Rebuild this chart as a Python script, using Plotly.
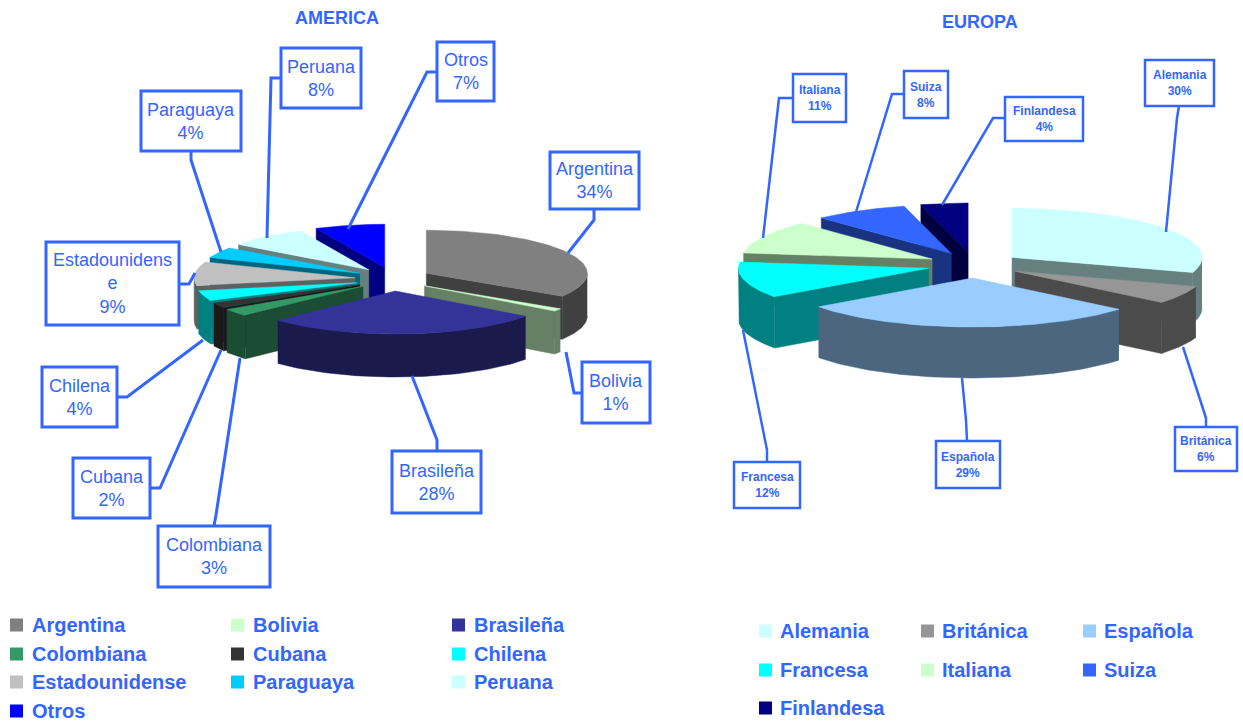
import numpy as np
import plotly.graph_objects as go

america_names = ["Argentina", "Bolivia", "Brasileña", "Colombiana", "Cubana", "Chilena",
                 "Estadounidense", "Paraguaya", "Peruana", "Otros"]
america_values = [34, 1, 28, 3, 2, 4, 9, 4, 8, 7]
america_top = ["#808080", "#CCFFCC", "#333399", "#339966", "#333333", "#00FFFF",
               "#C0C0C0", "#00CCFF", "#CCFFFF", "#0000FF"]
america_side = ["#404040", "#668066", "#1A1A4D", "#1A4D33", "#1A1A1A", "#008080",
                "#606060", "#006680", "#668080", "#000080"]

europa_names = ["Alemania", "Británica", "Española", "Francesa", "Italiana", "Suiza", "Finlandesa"]
europa_values = [30, 6, 29, 12, 11, 8, 4]
europa_top = ["#CCFFFF", "#969696", "#99CCFF", "#00FFFF", "#CCFFCC", "#3366FF", "#000080"]
europa_side = ["#668080", "#4B4B4B", "#4D6680", "#008080", "#668066", "#1A3380", "#000040"]

BLUE = "#3366FF"
FONT = "Liberation Sans, Arial, sans-serif"

# Callouts: box (x0, y0, x1, y1) and leader polyline, in page pixels
america_boxes = [(550, 152, 639, 209), (582, 362, 650, 423), (392, 451, 481, 513),
                 (158, 526, 270, 587), (73, 458, 150, 518), (42, 367, 117, 427),
                 (46, 242, 179, 325), (141, 91, 241, 151), (281, 48, 361, 108),
                 (437, 42, 494, 101)]
america_leaders = [[(594, 209), (594, 220), (568, 253)], [(582, 393), (574, 393), (566, 352)],
                   [(437, 451), (437, 440), (412, 376)], [(214, 526), (216, 515), (240, 358)],
                   [(150, 488), (160, 488), (221, 350)], [(117, 397), (127, 397), (203, 340)],
                   [(179, 284), (189, 284), (195, 273)], [(191, 151), (191, 160), (221, 252)],
                   [(281, 78), (271, 78), (267, 238)], [(437, 72), (427, 72), (348, 229)]]
europa_boxes = [(1145, 60, 1214, 106), (1175, 427, 1237, 471), (936, 441, 1000, 488),
                (734, 462, 800, 508), (793, 74, 846, 122), (904, 71, 948, 118),
                (1005, 97, 1083, 141)]
europa_leaders = [[(1179, 106), (1177, 118), (1166, 232)], [(1206, 427), (1206, 418), (1183, 347)],
                  [(967, 441), (966, 420), (962, 378)], [(767, 462), (767, 450), (743, 330)],
                  [(793, 98), (779, 98), (763, 238)], [(904, 94), (892, 94), (856, 212)],
                  [(1005, 118), (993, 118), (942, 205)]]

fig = go.Figure()


def poly(xs, ys, color, name):
    fig.add_trace(go.Scatter(x=xs, y=ys, mode="lines", fill="toself", fillcolor=color,
                             line=dict(color=color, width=0.5), name=name,
                             hoverinfo="name", showlegend=False))


def pie3d(values, names, top, side, cx, cy, rx, ry, h, ex, ey):
    total = sum(values)
    edges = np.cumsum([0] + list(values)) / total * 2 * np.pi
    order = sorted(range(len(values)),
                   key=lambda i: -np.cos((edges[i] + edges[i + 1]) / 2))
    for i in order:
        a, b = edges[i], edges[i + 1]
        m = (a + b) / 2
        ax, ay = cx + ex * np.sin(m), cy - ey * np.cos(m)
        px = lambda t: ax + rx * np.sin(t)
        py = lambda t: ay - ry * np.cos(t)
        # cut faces that turn towards the viewer
        if np.sin(a) < -1e-6:
            poly([ax, px(a), px(a), ax, ax], [ay, py(a), py(a) + h, ay + h, ay], side[i], names[i])
        if np.sin(b) > 1e-6:
            poly([ax, px(b), px(b), ax, ax], [ay, py(b), py(b) + h, ay + h, ay], side[i], names[i])
        # outer rim, front half only
        lo, hi = max(a, np.pi / 2), min(b, 3 * np.pi / 2)
        if hi > lo:
            t = np.linspace(lo, hi, 60)
            poly(np.r_[px(t), px(t)[::-1]], np.r_[py(t), py(t)[::-1] + h], side[i], names[i])
        # top surface
        t = np.linspace(a, b, 90)
        poly(np.r_[ax, px(t), ax], np.r_[ay, py(t), ay], top[i], names[i])


pie3d(america_values, america_names, america_top, america_side, 393, 279, 161, 43, 43, 38, 12)
pie3d(europa_values, europa_names, europa_top, europa_side, 974, 265, 190, 49, 51, 47, 13)

shapes, annots = [], []


def callouts(names, values, boxes, leaders, size, bold, lw):
    for n, v, bx, ld in zip(names, values, boxes, leaders):
        path = "M" + " L".join(f"{x},{y}" for x, y in ld)
        shapes.append(dict(type="path", path=path, xref="x", yref="y",
                           line=dict(color=BLUE, width=lw)))
        shapes.append(dict(type="rect", xref="x", yref="y", x0=bx[0], y0=bx[1], x1=bx[2], y1=bx[3],
                           line=dict(color=BLUE, width=lw), fillcolor="white"))
        label = "Estadounidens<br>e" if n == "Estadounidense" else n
        txt = f"{label}<br>{v}%"
        if bold:
            txt = "<b>" + txt.replace("<br>", "</b><br><b>") + "</b>"
        annots.append(dict(x=(bx[0] + bx[2]) / 2, y=(bx[1] + bx[3]) / 2, xref="x", yref="y",
                           text=txt, showarrow=False, align="center",
                           font=dict(family=FONT, size=size, color=BLUE)))


callouts(america_names, america_values, america_boxes, america_leaders, 18, False, 3)
callouts(europa_names, europa_values, europa_boxes, europa_leaders, 12, True, 2.5)


def legend(names, colors, col_x, row_y, sq, gap):
    for k, (n, c) in enumerate(zip(names, colors)):
        x = col_x[k % len(col_x)]
        y = row_y[k // len(col_x)]
        shapes.append(dict(type="rect", xref="x", yref="y", x0=x, x1=x + sq, y0=y - sq / 2, y1=y + sq / 2,
                           line=dict(width=0), fillcolor=c))
        annots.append(dict(x=x + gap, y=y, xref="x", yref="y", xanchor="left", text=f"<b>{n}</b>",
                           showarrow=False, font=dict(family=FONT, size=20, color=BLUE)))


legend(america_names, america_top, [10, 231, 452], [625, 654, 682, 711], 13, 20)
legend(europa_names, europa_top, [759, 921, 1083], [631, 670, 708], 13, 19)

annots.append(dict(x=337, y=18, xref="x", yref="y", text="<b>AMERICA</b>", showarrow=False,
                   font=dict(family=FONT, size=18, color=BLUE)))
annots.append(dict(x=980, y=22, xref="x", yref="y", text="<b>EUROPA</b>", showarrow=False,
                   font=dict(family=FONT, size=18, color=BLUE)))

fig.update_layout(width=1243, height=722, margin=dict(l=0, r=0, t=0, b=0),
                  paper_bgcolor="white", plot_bgcolor="white", showlegend=False,
                  shapes=shapes, annotations=annots,
                  xaxis=dict(range=[0, 1243], visible=False, fixedrange=True),
                  yaxis=dict(range=[722, 0], visible=False, fixedrange=True))
fig.write_html("out.html", config=dict(displayModeBar=False),
               post_script="document.body.style.margin='0';document.body.style.overflow='hidden';")
